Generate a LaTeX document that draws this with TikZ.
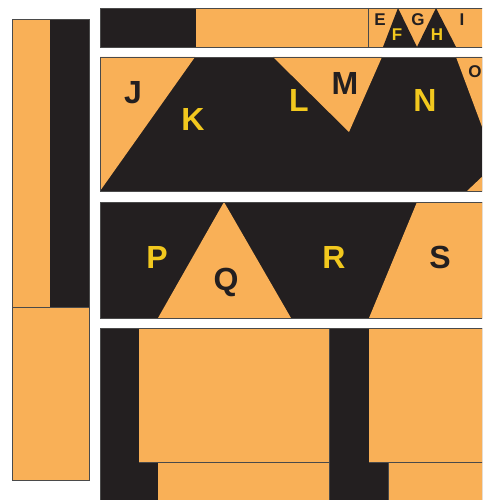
\documentclass[tikz,border=0pt]{standalone}
\usepackage{fontspec}
\setmainfont{Liberation Sans}
\definecolor{org}{HTML}{F9B057}
\definecolor{blk}{HTML}{231F20}
\definecolor{yel}{HTML}{F2C81E}
\definecolor{edge}{HTML}{4A4A4A}
\begin{document}
\begin{tikzpicture}[x=1pt,y=-1pt,
  big/.style={font=\fontsize{32}{32}\selectfont\bfseries, inner sep=0pt},
  small/.style={font=\fontsize{17}{17}\selectfont\bfseries, inner sep=0pt},
  dk/.style={text=blk},
  yl/.style={text=yel},
  outl/.style={draw=edge, line width=0.7pt}]
\useasboundingbox (0,0) rectangle (482,500);
\begin{scope}
\clip (0,0) rectangle (482,500);
% left column
\fill[org] (12,19) rectangle (50,307);
\fill[blk] (50,19) rectangle (89,307);
\fill[org] (12,307) rectangle (89,480);
\draw[outl] (12,19) rectangle (89,480);
\draw[outl] (12,307) -- (89,307);
% top strip
\fill[blk] (100,8) rectangle (196,47);
\fill[org] (196,8) rectangle (490,47);
\fill[blk] (383,47) -- (398,8) -- (417,47) -- cycle;
\fill[blk] (417,47) -- (436,8) -- (456,47) -- cycle;
\draw[outl] (368,8) -- (368,47);
\draw[outl] (100,8) rectangle (490,47);
% band 2
\fill[blk] (100,57) rectangle (490,191);
\fill[org] (100,57) -- (195,57) -- (100,191) -- cycle;
\fill[org] (273,57) -- (382,57) -- (349,132) -- cycle;
\fill[org] (456,57) -- (500,57) -- (500,175) -- cycle;
\fill[org] (467,191) -- (486,173) -- (486,191) -- cycle;
\draw[outl] (100,57) rectangle (490,191);
% band 3
\fill[blk] (100,202) rectangle (490,318);
\fill[org] (158,318) -- (224,202) -- (291,318) -- cycle;
\fill[org] (369,318) -- (417,202) -- (490,202) -- (490,318) -- cycle;
\draw[outl] (100,202) rectangle (490,318);
% band 4
\fill[blk] (100,328) rectangle (490,505);
\fill[org] (139,329) rectangle (329,462.5);
\fill[org] (369,329) rectangle (490,462.5);
\fill[org] (158,462.5) rectangle (329,505);
\fill[org] (388,462.5) rectangle (490,505);
\draw[outl] (100,328) -- (490,328);
\draw[outl] (100,328) -- (100,505);
\draw[outl] (139,462.5) -- (329,462.5);
\draw[outl] (369,462.5) -- (490,462.5);
\draw[edge, line width=0.4pt] (329,329) -- (329,505);
\draw[edge, line width=0.4pt] (388,462.5) -- (388,505);
\end{scope}
% labels
\node[small,dk] (E) at (380,20) {E};
\node[small,yl] (F) at (397,35) {F};
\node[small,dk] (G) at (418,20) {G};
\node[small,yl] (H) at (437,35) {H};
\node[small,dk] (I) at (462,20) {I};
\node[big,dk] (J) at (133,93) {J};
\node[big,yl] (K) at (193,119) {K};
\node[big,yl] (L) at (299,100) {L};
\node[big,dk] (M) at (345,83) {M};
\node[big,yl] (N) at (425,100) {N};
\node[small,dk] (O) at (475,72) {O};
\node[big,yl] (P) at (157,257) {P};
\node[big,dk] (Q) at (226,282) {Q};
\node[big,yl] (R) at (334,257) {R};
\node[big,dk] (S) at (440,257) {S};
\end{tikzpicture}
\end{document}
